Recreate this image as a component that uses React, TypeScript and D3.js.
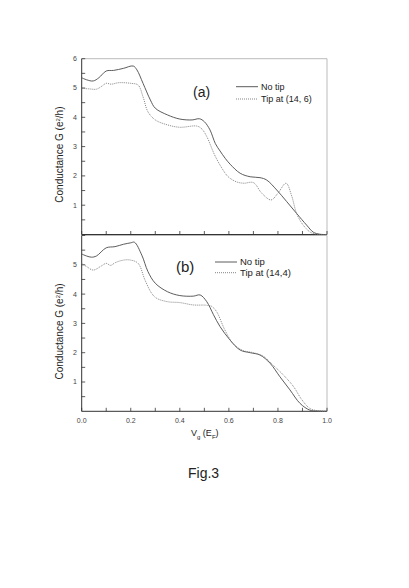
import React from "react";
import * as d3 from "d3";

const xTicks = [0, 0.2, 0.4, 0.6, 0.8, 1.0];
const yTicksA = [1, 2, 3, 4, 5, 6];
const yTicksB = [1, 2, 3, 4, 5];

const aNoTipV = [0, 0.02, 0.047, 0.07, 0.1, 0.13, 0.17, 0.21, 0.225, 0.25, 0.28, 0.3, 0.35, 0.4, 0.45, 0.48, 0.5, 0.523, 0.545, 0.564, 0.585, 0.605, 0.646, 0.687, 0.727, 0.754, 0.795, 0.836, 0.876, 0.917, 0.944, 0.97, 1.0];
const aNoTipG = [5.35, 5.28, 5.24, 5.35, 5.58, 5.6, 5.67, 5.75, 5.62, 5.16, 4.59, 4.31, 4.08, 3.94, 3.91, 3.95, 3.85, 3.57, 3.1, 2.85, 2.6, 2.4, 2.09, 1.97, 1.94, 1.86, 1.52, 1.12, 0.72, 0.32, 0.08, 0.01, 0];

const aTipV = [0, 0.03, 0.06, 0.08, 0.1, 0.12, 0.15, 0.2, 0.23, 0.25, 0.27, 0.3, 0.35, 0.4, 0.47, 0.49, 0.51, 0.545, 0.585, 0.6, 0.63, 0.66, 0.7, 0.734, 0.772, 0.8, 0.833, 0.856, 0.876, 0.903, 0.93, 0.95, 1.0];
const aTipG = [4.99, 4.97, 4.96, 5.05, 5.16, 5.13, 5.18, 5.16, 5.1, 4.7, 4.19, 3.91, 3.74, 3.66, 3.7, 3.6, 3.34, 2.66, 2.09, 1.95, 1.8, 1.75, 1.77, 1.41, 1.18, 1.41, 1.75, 1.32, 0.72, 0.32, 0.09, 0.02, 0];

const bNoTipV = [0, 0.02, 0.04, 0.06, 0.1, 0.136, 0.17, 0.2, 0.215, 0.245, 0.27, 0.3, 0.35, 0.4, 0.455, 0.483, 0.51, 0.537, 0.564, 0.605, 0.646, 0.687, 0.727, 0.768, 0.808, 0.849, 0.89, 0.93, 0.96, 1.0];
const bNoTipG = [5.37, 5.3, 5.26, 5.3, 5.58, 5.62, 5.7, 5.75, 5.77, 5.33, 4.77, 4.37, 4.08, 3.95, 3.93, 3.97, 3.74, 3.3, 2.89, 2.43, 2.09, 2.0, 1.92, 1.64, 1.18, 0.73, 0.27, 0.04, 0.01, 0];

const bTipV = [0, 0.02, 0.047, 0.08, 0.1, 0.118, 0.136, 0.17, 0.2, 0.23, 0.258, 0.285, 0.305, 0.35, 0.4, 0.455, 0.51, 0.53, 0.55, 0.584, 0.618, 0.659, 0.7, 0.74, 0.781, 0.822, 0.863, 0.897, 0.93, 0.96, 1.0];
const bTipG = [5.05, 4.94, 4.82, 4.96, 5.05, 4.98, 5.07, 5.16, 5.16, 5.05, 4.48, 4.03, 3.86, 3.74, 3.71, 3.63, 3.62, 3.58, 3.4, 2.77, 2.3, 2.07, 2.0, 1.88, 1.57, 1.24, 0.85, 0.4, 0.1, 0.02, 0];

const legendA = ["No tip", "Tip at (14, 6)"];
const legendB = ["No tip", "Tip at (14,4)"];

const FONT = "'Liberation Sans', Arial, sans-serif";
const X0 = 81.7, X1 = 327;
const x = d3.scaleLinear().domain([0, 1]).range([X0, X1]);

function Panel({ yBottom, yTicks, noTipV, noTipG, tipV, tipG, label, legend, labelPos, legPos, legFont, labFont }: any) {
  const y = d3.scaleLinear().domain([0, 6]).range([yBottom, yBottom - 6 * 29.3]);
  const line = d3.line<[number, number]>().x(d => x(d[0])).y(d => y(d[1])).curve(d3.curveCatmullRom.alpha(0.5));
  const solid = line(noTipV.map((v: number, i: number) => [v, noTipG[i]]));
  const dotted = line(tipV.map((v: number, i: number) => [v, tipG[i]]));
  const minorX = d3.range(0, 1.0001, 0.1);
  const minorY = d3.range(0.5, 6.0001, 0.5);
  const yTop = y(6);
  return (
    <g>
      <line x1={X0} x2={X1} y1={yTop} y2={yTop} stroke="#aaa" strokeWidth={0.8} />
      <line x1={X1} x2={X1} y1={yTop} y2={yBottom} stroke="#aaa" strokeWidth={0.8} />
      <line x1={X0} x2={X0} y1={yTop} y2={yBottom} stroke="#333" strokeWidth={1} />
      <line x1={X0} x2={X1} y1={yBottom} y2={yBottom} stroke="#333" strokeWidth={1} />
      {minorX.map((t, i) => (
        <line key={"xt" + i} x1={x(t)} x2={x(t)} y1={yBottom} y2={yBottom - 3.5} stroke="#333" strokeWidth={0.8} />
      ))}
      {minorY.map((t, i) => (
        <line key={"yt" + i} x1={X0} x2={X0 + 3.5} y1={y(t)} y2={y(t)} stroke="#333" strokeWidth={0.8} />
      ))}
      {yTicks.map((t: number) => (
        <text key={"yl" + t} x={77} y={y(t)} dy="0.35em" textAnchor="end" fontSize={7} fontFamily={FONT} fill="#444">{t}</text>
      ))}
      <path d={solid || ""} fill="none" stroke="#4a4a4a" strokeWidth={0.9} />
      <path d={dotted || ""} fill="none" stroke="#777" strokeWidth={0.9} strokeDasharray="1,1" />
      <text x={labelPos[0]} y={labelPos[1]} fontSize={labFont} fontFamily={FONT} fill="#222">{label}</text>
      <line x1={legPos[0]} x2={legPos[0] + 22} y1={legPos[1]} y2={legPos[1]} stroke="#4a4a4a" strokeWidth={0.9} />
      <line x1={legPos[0]} x2={legPos[0] + 22} y1={legPos[1] + legPos[2]} y2={legPos[1] + legPos[2]} stroke="#777" strokeWidth={0.9} strokeDasharray="1,1" />
      <text x={legPos[0] + 25} y={legPos[1]} dy="0.35em" fontSize={legFont} fontFamily={FONT} fill="#222">{legend[0]}</text>
      <text x={legPos[0] + 25} y={legPos[1] + legPos[2]} dy="0.35em" fontSize={legFont} fontFamily={FONT} fill="#222">{legend[1]}</text>
      <text transform={`translate(63,${(yTop + yBottom) / 2 + 8}) rotate(-90)`} textAnchor="middle" fontSize={10} fontFamily={FONT} fill="#222">
        Conductance G (e<tspan dy="-3" fontSize={6}>2</tspan><tspan dy="3">/h)</tspan>
      </text>
    </g>
  );
}

export default function App() {
  return (
    <svg width={409} height={588} style={{ position: "absolute", left: 0, top: 0, background: "#fff" }}>
      <rect width={409} height={588} fill="#fff" />
      <Panel yBottom={234.5} yTicks={yTicksA} noTipV={aNoTipV} noTipG={aNoTipG} tipV={aTipV} tipG={aTipG}
        label="(a)" legend={legendA} labelPos={[193, 96.5]} legPos={[236, 86.7, 12.3]} legFont={9} labFont={14} />
      <Panel yBottom={411.3} yTicks={yTicksB} noTipV={bNoTipV} noTipG={bNoTipG} tipV={bTipV} tipG={bTipG}
        label="(b)" legend={legendB} labelPos={[176, 272]} legPos={[215, 262, 10.7]} legFont={9.5} labFont={15} />
      {xTicks.map(t => (
        <text key={t} x={x(t)} y={423} textAnchor="middle" fontSize={7} fontFamily={FONT} fill="#444">{t.toFixed(1)}</text>
      ))}
      <text x={191} y={436} fontSize={9} fontFamily={FONT} fill="#222">
        V<tspan dy="2.5" fontSize={6}>g</tspan><tspan dy="-2.5"> (E</tspan><tspan dy="2.5" fontSize={6}>F</tspan><tspan dy="-2.5">)</tspan>
      </text>
      <text x={188} y={478} fontSize={14} fontFamily={FONT} fill="#222">Fig.3</text>
    </svg>
  );
}
